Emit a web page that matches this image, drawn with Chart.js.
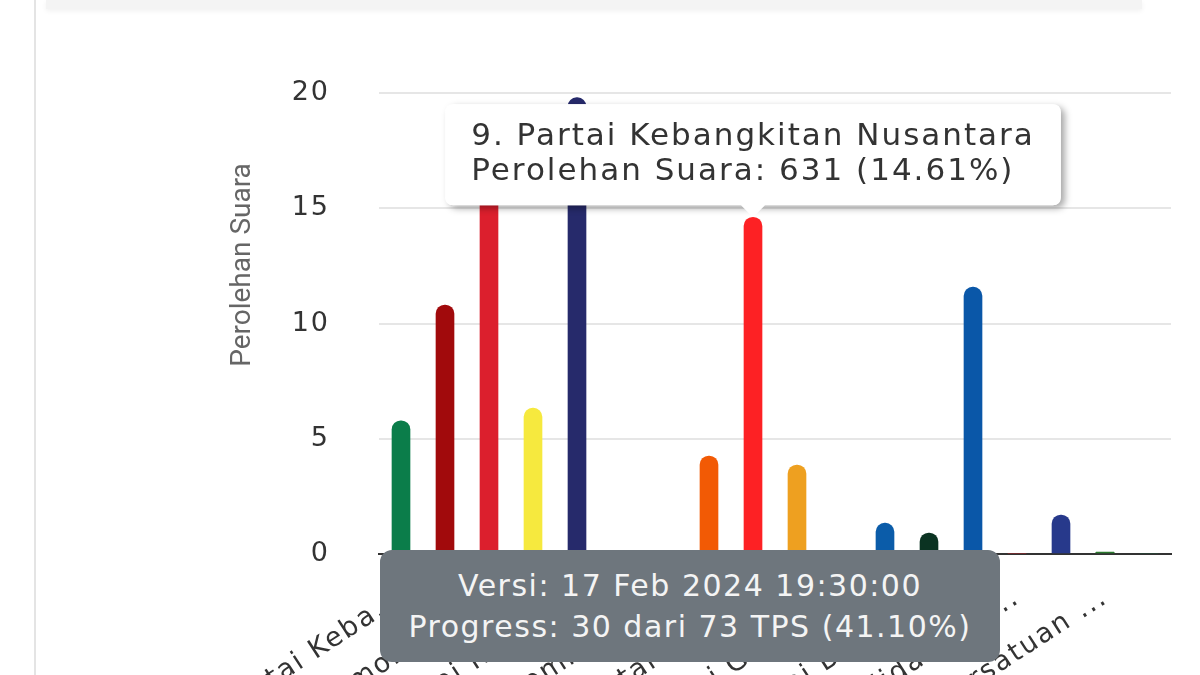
<!DOCTYPE html>
<html>
<head>
<meta charset="utf-8">
<script src="https://cdn.jsdelivr.net/npm/chart.js@4"></script>
<style>
  html, body { margin: 0; padding: 0; background: #fff; width: 1200px; height: 675px; overflow: hidden; }
  #wrap { position: absolute; left: 0; top: 0; width: 1200px; height: 800px; }
  #leftLine { position: absolute; left: 34px; top: 0; width: 2px; height: 675px; background: #e4e4e4; }
  #topBand { position: absolute; left: 46px; top: 0; width: 1096px; height: 9px; background: #f4f4f4;
             box-shadow: 0 2px 5px rgba(0,0,0,0.06); }
  #versi { position: absolute; left: 380px; top: 550px; width: 620px; height: 112px; box-sizing: border-box;
           padding-top: 15px; background: #6e767d; border-radius: 12px; color: #f4f4f4; text-align: center;
           font-family: "DejaVu Sans", sans-serif; font-size: 30px; letter-spacing: 1.5px; line-height: 41px; }
</style>
</head>
<body>
<div id="leftLine"></div>
<div id="topBand"></div>
<div id="wrap"><canvas id="suaraChart" width="1200" height="800"></canvas></div>
<div id="versi">Versi: 17 Feb 2024 19:30:00<br>Progress: 30 dari 73 TPS (41.10%)</div>
<script>
// party names (tooltip) and shortened tick labels
const fullNames = [
  '1. Partai Kebangkitan Bangsa', '2. Partai Gerakan Indonesia Raya', '3. Partai Demokrasi Indonesia Perjuangan',
  '4. Partai Golongan Karya', '5. Partai NasDem', '6. Partai Buruh', '7. Partai Gelombang Rakyat Indonesia',
  '8. Partai Keadilan Sejahtera', '9. Partai Kebangkitan Nusantara', '10. Partai Hati Nurani Rakyat',
  '11. Partai Garda Republik Indonesia', '12. Partai Amanat Nasional', '13. Partai Bulan Bintang',
  '14. Partai Demokrat', '15. Partai Solidaritas Indonesia', '16. Partai Perindo',
  '17. Partai Persatuan Pembangunan', '24. Partai Ummat'
];
const tickLabels = [
  '1. Partai Keba...', '2. Partai Gerakan ...', '3. Partai Demokrasi ...', '4. Partai Golongan ...',
  '5. Partai NasDem', '6. Partai Buruh', '7. Partai Gelombang ...', '8. Partai Keadilan ...',
  '9. Partai Keba...', '10. Partai Hati ...', '11. Partai Garda ...', '12. Partai Amanat ...',
  '13. Partai Bulan ...', '14. Partai Demokrat', '15. Partai Solidaritas ...', '16. Partai Perindo',
  '17. Partai Persatuan ...', '24. Partai Ummat'
];
// perolehan suara (%)
const persen = [5.78, 10.8, 17.4, 6.33, 19.8, 0, 0, 4.25, 14.61, 3.86, 0, 1.34, 0.91, 11.58, 0, 1.69, 0.08, 0];
const warna = [
  '#0b7d4a', '#a10a0c', '#dc1f2d', '#f6e93e', '#262a6b', '#e8541c', '#2f7fc1', '#f25a05', '#fd2124',
  '#eea020', '#9a1c22', '#0b5ca9', '#0b3322', '#0a57a8', '#e6202a', '#27398b', '#2b7a2e', '#1d5a3a'
];
const yTicks = [0, 5, 10, 15, 20];
const activeIndex = 8;
const activeVotes = 631;

const tickFont = { family: '"DejaVu Sans", sans-serif', size: 27 };
const tipFont = { family: '"DejaVu Sans", sans-serif', size: 31, lineHeight: 1.05 };

// the screenshot is a bit wide, so space the letters out a little
const spacing = {
  id: 'spacing',
  beforeUpdate(chart) { chart.ctx.letterSpacing = '2px'; },
  beforeDraw(chart) { chart.ctx.letterSpacing = '2px'; }
};

const extras = {
  id: 'extras',
  afterDraw(chart) {
    const ctx = chart.ctx;
    ctx.save();
    ctx.letterSpacing = '0px';
    ctx.translate(243, 265);
    ctx.rotate(-Math.PI / 2);
    ctx.font = '28px Roboto';
    ctx.fillStyle = '#666';
    ctx.textAlign = 'center';
    ctx.textBaseline = 'middle';
    ctx.fillText('Perolehan Suara', 0, 0);
    ctx.restore();
  },
  beforeTooltipDraw(chart, args) {
    const t = args.tooltip;
    const ctx = chart.ctx;
    ctx.save();
    ctx.shadowColor = 'rgba(0,0,0,0.35)';
    ctx.shadowBlur = 7;
    ctx.shadowOffsetX = 4;
    ctx.shadowOffsetY = 3;
    ctx.fillStyle = '#fff';
    ctx.beginPath();
    ctx.roundRect(t.x, t.y, t.width, t.height, 8);
    ctx.fill();
    ctx.restore();
  }
};

const ctx = document.getElementById('suaraChart').getContext('2d');
const suaraChart = new Chart(ctx, {
  type: 'bar',
  data: {
    labels: tickLabels,
    datasets: [{
      label: 'Perolehan Suara',
      data: persen,
      backgroundColor: warna,
      barThickness: 18,
      borderRadius: { topLeft: 9, topRight: 9 },
      borderSkipped: 'bottom'
    }]
  },
  options: {
    responsive: false,
    animation: false,
    events: [],
    layout: { padding: { top: 93, right: 29, left: 0, bottom: 0 } },
    plugins: {
      legend: { display: false },
      tooltip: {
        backgroundColor: '#fff',
        titleColor: '#333',
        bodyColor: '#333',
        titleFont: { ...tipFont, weight: 'normal' },
        bodyFont: tipFont,
        titleMarginBottom: 2,
        padding: { x: 26, y: 17 },
        cornerRadius: 8,
        caretSize: 12,
        caretPadding: 0,
        displayColors: false,
        xAlign: 'center',
        yAlign: 'bottom',
        callbacks: {
          title: items => fullNames[items[0].dataIndex],
          label: item => 'Perolehan Suara: ' + activeVotes + ' (' + item.raw.toFixed(2) + '%)'
        }
      }
    },
    scales: {
      x: {
        grid: { display: false },
        border: { display: true, color: '#333', width: 2 },
        ticks: {
          autoSkip: false,
          minRotation: 33,
          maxRotation: 33,
          padding: 20,
          color: '#333',
          font: tickFont,
          callback: (v, i) => (i % 2 === 0 ? tickLabels[i] : '')
        },
        afterFit: s => { s.height = 246; }
      },
      y: {
        min: 0,
        max: 20,
        border: { display: false },
        grid: { color: '#e6e6e6', lineWidth: 2, drawTicks: false },
        afterBuildTicks: s => { s.ticks = yTicks.map(v => ({ value: v })); },
        ticks: { padding: 49, color: '#333', font: tickFont },
        afterFit: s => { s.width = 379; }
      }
    }
  },
  plugins: [spacing, extras]
});

const bar = suaraChart.getDatasetMeta(0).data[activeIndex];
suaraChart.tooltip.setActiveElements([{ datasetIndex: 0, index: activeIndex }], { x: bar.x, y: bar.y });
suaraChart.update('none');
</script>
</body>
</html>
